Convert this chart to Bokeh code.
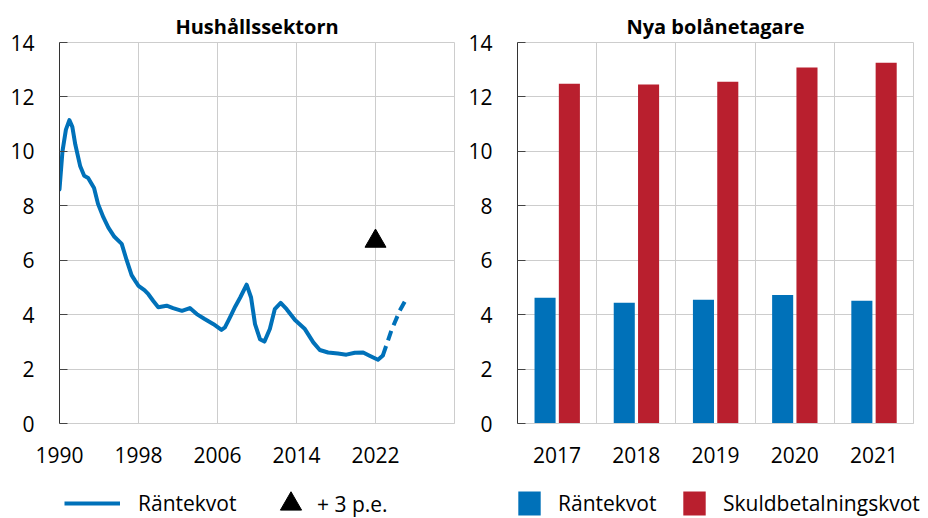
from bokeh.plotting import figure
from bokeh.models import (Range1d, FactorRange, FixedTicker, Legend, LegendItem,
                          ColumnDataSource)
from bokeh.transform import dodge
from bokeh.layouts import row, column
from bokeh.embed import file_html
from bokeh.resources import INLINE

# ---------------- data ----------------
years_solid = [1990.0, 1990.3, 1990.65, 1991.0, 1991.3, 1991.6, 1992.1, 1992.5, 1992.9,
               1993.5, 1993.9, 1994.45, 1994.95, 1995.56, 1996.3, 1996.8, 1997.3, 1997.65,
               1998.0, 1998.6, 1999.0, 1999.5, 2000.0, 2000.85, 2001.5, 2002.4, 2003.2,
               2003.9, 2004.7, 2005.6, 2006.4, 2006.75, 2007.1, 2007.4, 2007.8, 2008.3,
               2008.95, 2009.4, 2009.8, 2010.3, 2010.75, 2011.3, 2011.8, 2012.4, 2013.0,
               2013.85, 2014.85, 2015.7, 2016.36, 2017.2, 2018.2, 2019.05, 2019.9, 2020.75,
               2021.4, 2022.25, 2022.75]
rantekvot_solid = [8.6, 10.0, 10.8, 11.15, 10.9, 10.25, 9.45, 9.1, 9.02,
                   8.65, 8.07, 7.57, 7.2, 6.86, 6.6, 6.0, 5.45, 5.25,
                   5.06, 4.9, 4.75, 4.5, 4.27, 4.33, 4.24, 4.14, 4.24,
                   4.02, 3.84, 3.65, 3.44, 3.53, 3.78, 4.0, 4.3, 4.63,
                   5.1, 4.63, 3.65, 3.1, 3.01, 3.47, 4.2, 4.43, 4.2,
                   3.8, 3.47, 2.98, 2.7, 2.61, 2.57, 2.53, 2.6, 2.61,
                   2.49, 2.34, 2.5]
years_forecast = [2022.75, 2023.6, 2024.45, 2025.0]
rantekvot_forecast = [2.5, 3.41, 4.14, 4.5]
scenario_year = [2022]
scenario_value = [6.7]

bar_years = ["2017", "2018", "2019", "2020", "2021"]
bar_rantekvot = [4.62, 4.44, 4.55, 4.72, 4.51]
bar_skuldbetalningskvot = [12.48, 12.46, 12.56, 13.08, 13.26]

left_xticks = [1990, 1998, 2006, 2014, 2022]
left_xgrid = [1990, 1998, 2006, 2014, 2022, 2030]
yticks = [0, 2, 4, 6, 8, 10, 12, 14]

BLUE = "#0071B9"
RED = "#B91F2E"
GRID = "#CDCDCD"
FONT = "Open Sans"


def style(p, title):
    p.title.text = title
    p.title.align = "center"
    p.title.text_font = FONT
    p.title.text_font_style = "bold"
    p.title.text_font_size = "20px"
    p.title.text_color = "black"
    p.title.standoff = 6
    p.outline_line_color = GRID
    p.outline_line_width = 1
    p.background_fill_color = "white"
    p.border_fill_color = "white"
    p.yaxis.ticker = FixedTicker(ticks=yticks)
    p.yaxis.major_tick_in = 8
    p.yaxis.major_tick_out = 0
    p.yaxis.minor_tick_line_color = None
    p.yaxis.axis_line_color = "#333333"
    p.yaxis.major_tick_line_color = "#444444"
    p.yaxis.major_label_standoff = 25
    p.xaxis.major_tick_line_color = None
    p.xaxis.minor_tick_line_color = None
    p.xaxis.axis_line_color = GRID
    p.xaxis.major_label_standoff = 17
    for ax in (p.xaxis, p.yaxis):
        ax.major_label_text_font = FONT
        ax.major_label_text_font_size = "21px"
        ax.major_label_text_color = "black"
    p.ygrid.ticker = FixedTicker(ticks=yticks)
    p.ygrid.grid_line_color = GRID
    p.xgrid.grid_line_color = GRID


def mk_legend(items, x, y, gw, gh, standoff):
    return Legend(items=items, location=(x, y), orientation="horizontal",
                  glyph_width=gw, glyph_height=gh, label_height=gh,
                  label_standoff=standoff, padding=0, margin=0, spacing=0,
                  border_line_color=None, background_fill_alpha=0,
                  label_text_font=FONT, label_text_font_size="21px",
                  label_text_color="black")


# ---------------- left: Hushållssektorn ----------------
p1 = figure(width=464, height=470, output_backend="svg", toolbar_location=None,
            x_range=Range1d(1990, 2030), y_range=Range1d(0, 14),
            min_border_left=59, min_border_right=10, min_border_top=42,
            min_border_bottom=47)
style(p1, "Hushållssektorn")
p1.xaxis.ticker = FixedTicker(ticks=left_xticks)
p1.xgrid.ticker = FixedTicker(ticks=left_xgrid)

p1.line(years_solid, rantekvot_solid, line_color=BLUE, line_width=4,
        line_join="round", line_cap="round")
p1.line(years_forecast, rantekvot_forecast, line_color=BLUE, line_width=4,
        line_dash="10 6")
p1.scatter(scenario_year, scenario_value, marker="triangle", size=21,
           fill_color="black", line_color="black")

# ---------------- right: Nya bolånetagare ----------------
src = ColumnDataSource(dict(year=bar_years, r=bar_rantekvot, s=bar_skuldbetalningskvot))
p2 = figure(width=464, height=470, output_backend="svg", toolbar_location=None,
            x_range=FactorRange(factors=bar_years, range_padding=0),
            y_range=Range1d(0, 14),
            min_border_left=53, min_border_right=15, min_border_top=42,
            min_border_bottom=47)
style(p2, "Nya bolånetagare")
p2.xgrid.ticker = FixedTicker(ticks=[1, 2, 3, 4])

p2.vbar(x=dodge("year", -0.152, range=p2.x_range), top="r", width=0.266,
        source=src, fill_color=BLUE, line_color=None)
p2.vbar(x=dodge("year", 0.155, range=p2.x_range), top="s", width=0.266,
        source=src, fill_color=RED, line_color=None)

# ---------------- legend strip (keys reuse the data, drawn outside its view) ----------------
lf = figure(width=928, height=48, output_backend="svg", toolbar_location=None,
            x_range=Range1d(0, 1), y_range=Range1d(0, 1),
            x_axis_type=None, y_axis_type=None, min_border=0)
lf.outline_line_color = None
lf.background_fill_color = "white"
lf.border_fill_color = "white"

k_line = lf.line(x=years_forecast, y=rantekvot_forecast, line_color=BLUE, line_width=4)
k_tri = lf.scatter(x=scenario_year, y=scenario_value, marker="triangle",
                   fill_color="black", line_color="black")
k_blue = lf.vbar(x=[2017, 2018, 2019, 2020, 2021], top=bar_rantekvot, width=0.5,
                 fill_color=BLUE, line_color=None)
k_red = lf.vbar(x=[2017, 2018, 2019, 2020, 2021], top=bar_skuldbetalningskvot, width=0.5,
                fill_color=RED, line_color=None)

lf.add_layout(mk_legend([LegendItem(label="Räntekvot", renderers=[k_line])],
                        64, 0, 56, 30, 18))
lf.add_layout(mk_legend([LegendItem(label="+ 3 p.e.", renderers=[k_tri])],
                        264, -12, 53, 53, 0))
lf.add_layout(mk_legend([LegendItem(label="Räntekvot", renderers=[k_blue])],
                        515, 0, 28, 30, 15))
lf.add_layout(mk_legend([LegendItem(label="Skuldbetalningskvot", renderers=[k_red])],
                        680, 0, 28, 30, 15))

layout = column(row(p1, p2), lf)
open("out.html", "w").write(file_html(layout, INLINE))
